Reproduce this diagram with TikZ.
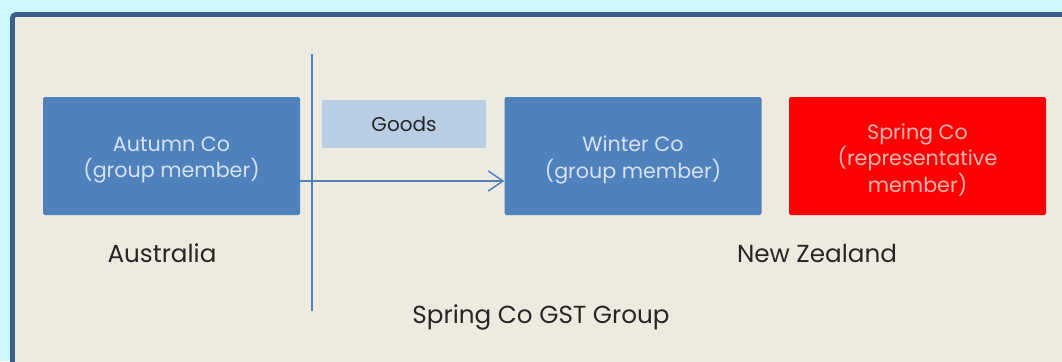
\documentclass[tikz,border=0pt]{standalone}
\usepackage{fontspec}
\setmainfont{Poppins}
\usetikzlibrary{arrows.meta}
\definecolor{sky}{HTML}{CCF8FE}
\definecolor{framec}{HTML}{3A5F8C}
\definecolor{paper}{HTML}{EDEAE0}
\definecolor{boxblue}{HTML}{4F81BD}
\definecolor{paleblue}{HTML}{B9CDE5}
\definecolor{boxtext}{HTML}{D6E2F0}
\definecolor{redtext}{HTML}{FFB4B4}
\definecolor{ink}{HTML}{262626}
\tikzset{
  company/.style={rounded corners=1.2pt, minimum width=192.75pt, minimum height=88.5pt, inner sep=0pt},
  member/.style={company, fill=boxblue},
  rep/.style={company, fill=red},
  boxlabel/.style={align=center, inner sep=0pt, font=\fontsize{15.5}{19.8}\selectfont},
  region/.style={text=ink, font=\fontsize{18.5}{22}\selectfont},
  flow/.style={boxblue, line width=1.1pt, -{Straight Barb[length=11pt, width=15pt, line width=1.1pt]}}
}
\begin{document}
\begin{tikzpicture}[x=0.75pt, y=-0.75pt]
  \useasboundingbox (0,0) rectangle (1062,361);
  \fill[sky] (0,0) rectangle (1062,361);
  % outer panel
  \draw[framec, fill=paper, line width=3.5pt, rounded corners=2.5pt] (12.5,14.5) rectangle (1090,390);
  \clip (0,0) rectangle (1062,361);
  % companies
  \node[member] (autumn) at (171.5,156) {};
  \node[member] (winter) at (633,156) {};
  \node[rep] (spring) at (917.5,156) {};
  \node[boxlabel, text=boxtext] (autumnT) at ([yshift=-3pt]autumn.center) {Autumn Co\\(group member)};
  \node[boxlabel, text=boxtext] (winterT) at ([yshift=-3pt]winter.center) {Winter Co\\(group member)};
  \node[boxlabel, text=redtext] (springT) at ([yshift=-3pt]spring.center) {Spring Co\\(representative\\member)};
  % border between countries
  \coordinate (bt) at (312,54);
  \coordinate (bb) at (312,311);
  \draw[boxblue, line width=1.1pt] (bt) -- (bb);
  % goods label
  \node[fill=paleblue, minimum width=123pt, minimum height=36pt, inner sep=0pt, text=ink,
    font=\fontsize{15}{18}\selectfont] (goods) at (404,124) {Goods};
  \draw[flow] (autumn.east |- 0,181) -- (winter.west |- 0,181);
  % labels
  \node[region] (au) at (162,253) {Australia};
  \node[region] (nz) at (817,253) {New Zealand};
  \node[region] (grp) at (541,317) {Spring Co GST Group};
\end{tikzpicture}
\end{document}
